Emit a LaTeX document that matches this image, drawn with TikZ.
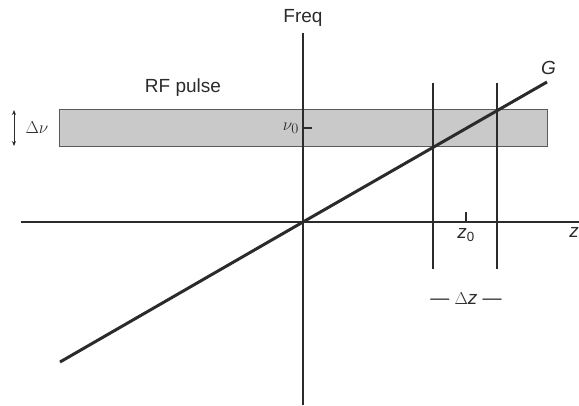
\documentclass[tikz,border=0pt]{standalone}
\usepackage{fontspec}
\setmainfont{Liberation Sans}
\usepackage{xcolor}
\usetikzlibrary{arrows.meta,positioning}
\definecolor{SliceInk}{HTML}{2B2B2B}
\definecolor{SliceBand}{HTML}{C9C9C9}
\definecolor{SliceEdge}{HTML}{5A5A5A}

\begin{document}
\begin{tikzpicture}[
  x=1pt,y=-1pt,
  txt/.style={inner sep=0pt,font=\fontsize{19}{22}\selectfont,text=SliceInk},
  band/.style={draw=SliceEdge,fill=SliceBand,line width=0.8pt,minimum width=488pt,minimum height=37pt,inner sep=0pt},
  axis/.style={line width=1.3pt,draw=SliceInk},
  grad/.style={line width=3pt,draw=SliceInk},
  cut/.style={line width=1.2pt,draw=SliceInk},
  width/.style={{Stealth[length=5pt,width=4pt]}-{Stealth[length=5pt,width=4pt]},line width=1pt,draw=SliceInk}
]
  \useasboundingbox (0,0) rectangle (579,405);
  \node[band,anchor=north west] (pulse) at (59,109) {};
  \node[txt] (rf) at (183,88) {RF pulse};
  % axes
  \coordinate (o) at (303,222);
  \coordinate (ztop) at (303,33);
  \coordinate (zbot) at (303,405);
  \coordinate (xl) at (21,222);
  \coordinate (xr) at (579,222);
  \draw[axis] (ztop) -- (zbot);
  \draw[axis] (xl) -- (xr);
  \node[txt,above=6pt of ztop] (freq) {Freq};
  \node[txt,anchor=north east] (zlab) at (579,227) {\itshape z};
  % gradient line
  \coordinate (glo) at (60,362);
  \coordinate (ghi) at (547,82);
  \draw[grad] (glo) -- (o) -- (ghi);
  \node[txt,above right=7pt and -6pt of ghi] (g) {\itshape G};
  % pulse width
  \coordinate (dtop) at (14,110);
  \coordinate (dbot) at (14,146);
  \draw[width] (dtop) -- (dbot);
  \node[txt] (dnu) at (37,128) {$\Delta\nu$};
  \coordinate (nutick) at (312,128);
  \draw[cut] (o |- nutick) -- (nutick);
  \node[txt,left=4pt of o |- nutick] (nu0) {$\nu_0$};
  % slice
  \coordinate (s1t) at (433,83);
  \coordinate (s1b) at (433,269);
  \coordinate (s2t) at (497,83);
  \coordinate (s2b) at (497,269);
  \draw[cut] (s1t) -- (s1b);
  \draw[cut] (s2t) -- (s2b);
  \coordinate (z0) at (466,212);
  \draw[cut] (z0) -- (z0 |- o);
  \node[txt,below=6pt of z0 |- o] (z0lab) {{\itshape z}\textsubscript{0}};
  \node[txt] (dz) at (466,299) {--- $\Delta$\textit{z} ---};
\end{tikzpicture}
\end{document}
